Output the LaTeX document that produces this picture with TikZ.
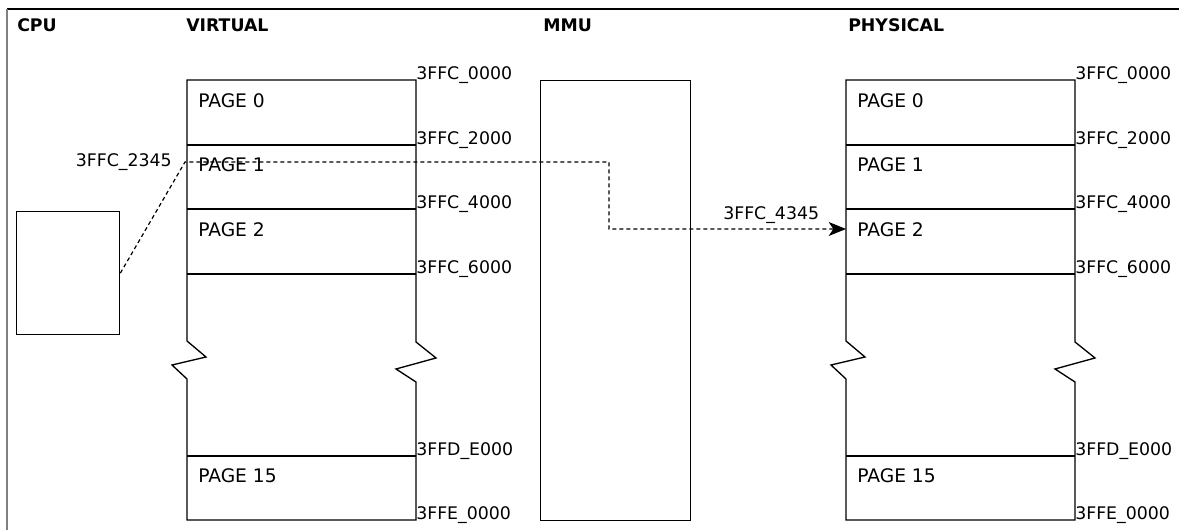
\documentclass[tikz,border=0pt]{standalone}
\usepackage{fontspec}
\setmainfont{DejaVu Sans}
\usetikzlibrary{arrows.meta}

\newcommand{\MemColumn}[2]{%
  \begin{scope}[shift={(#1,0)}]
    \draw[colline] (0,80) -- (229,80) -- (229,342) -- (249,358) -- (209,369) -- (229,382)
      -- (229,520) -- (0,520) -- (0,379) -- (-15,365) -- (19,357) -- (0,341) -- cycle;
    \foreach \yy in {145,209,274,456} \draw[colline] (0,\yy) -- (229,\yy);
    \node[pglabel] (#2p0)  at (11,108) {PAGE 0};
    \node[pglabel] (#2p1)  at (11,172) {PAGE 1};
    \node[pglabel] (#2p2)  at (11,237) {PAGE 2};
    \node[pglabel] (#2p15) at (11,483) {PAGE 15};
    \node[addr] (#2a0) at (229,80)  {3FFC\_0000};
    \node[addr] (#2a1) at (229,145) {3FFC\_2000};
    \node[addr] (#2a2) at (229,209) {3FFC\_4000};
    \node[addr] (#2a3) at (229,274) {3FFC\_6000};
    \node[addr] (#2a4) at (229,456) {3FFD\_E000};
    \node[addr] (#2a5) at (229,520) {3FFE\_0000};
  \end{scope}}

\begin{document}
\begin{tikzpicture}[x=0.75pt,y=-0.75pt,
  every node/.style={font=\fontsize{13}{15}\selectfont, inner sep=0pt},
  colline/.style={line width=1pt, line join=miter},
  hdr/.style={font=\fontsize{13}{15}\selectfont\bfseries, anchor=base west},
  addr/.style={anchor=base west},
  pglabel/.style={anchor=base west, font=\fontsize{14}{16}\selectfont},
  boxnode/.style={draw, line width=1pt, anchor=north west},
  conn/.style={dash pattern=on 3pt off 2.25pt, line width=0.9pt}]

\useasboundingbox (0,0) rectangle (1179,530);
\draw[line width=1pt] (1179,9) -- (7,9);
\draw[gray, line width=1.5pt] (7,9) -- (7,530);

\node[hdr] (hcpu)  at (17,32)  {CPU};
\node[hdr] (hvirt) at (186,32) {VIRTUAL};
\node[hdr] (hmmu)  at (543,32) {MMU};
\node[hdr] (hphys) at (848,32) {PHYSICAL};

\node[boxnode, minimum width=77.25pt, minimum height=92.25pt] (cpu) at (16,211) {};
\node[boxnode, minimum width=112.5pt, minimum height=330pt] (mmu) at (540,80) {};

\MemColumn{187}{v}
\MemColumn{846}{ph}

\node[anchor=base east] (vaddr) at (172,167) {3FFC\_2345};
\node[anchor=base west] (paddr) at (723,220) {3FFC\_4345};

\coordinate (b0) at (185,162);
\coordinate (b1) at (609,162);
\coordinate (phin) at (846,229);
\draw[conn, -{Stealth[length=13pt,width=10.5pt,inset=3.5pt]}]
  (cpu.east) -- (b0) -- (b1) |- (phin);
\end{tikzpicture}
\end{document}
